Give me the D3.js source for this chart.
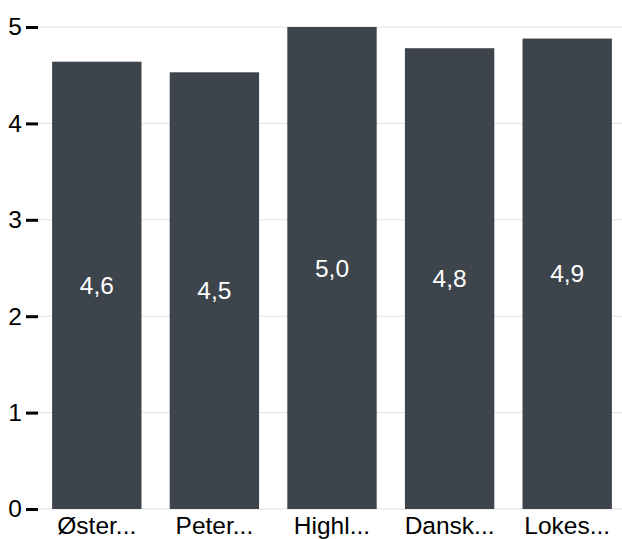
<!DOCTYPE html>
<html>
<head>
<meta charset="utf-8">
<script src="https://cdn.jsdelivr.net/npm/d3@7"></script>
<style>
  body { margin: 0; background: #fff; }
  svg { display: block; font-family: "Liberation Sans", Arial, sans-serif; }
</style>
</head>
<body>
<div id="chart"></div>
<script>
const width = 622, height = 539;
const margin = ({top: 27, right: 0, bottom: 30, left: 38});

// Data
const names = ["Øster...", "Peter...", "Highl...", "Dansk...", "Lokes..."];
const values = [4.64, 4.53, 5.0, 4.78, 4.88];
const yTicks = [0, 1, 2, 3, 4, 5];

const barColor = "#3e444c";
const fontSize = 24.5;

const svg = d3.select("#chart").append("svg")
    .attr("width", width)
    .attr("height", height);

const x = d3.scaleBand()
    .domain(names)
    .range([margin.left, 626])
    .paddingInner(0.24)
    .paddingOuter(0.12);

const y = d3.scaleLinear()
    .domain([0, 5])
    .range([height - margin.bottom, margin.top]);

// Gridlines
svg.append("g")
    .selectAll("line")
    .data(yTicks)
    .join("line")
    .attr("x1", margin.left)
    .attr("x2", width)
    .attr("y1", d => y(d))
    .attr("y2", d => y(d))
    .attr("stroke", "#e0e0e0")
    .attr("stroke-width", 1);

// Y axis
const gy = svg.append("g")
    .attr("transform", `translate(${margin.left},0)`)
    .call(d3.axisLeft(y).tickValues(yTicks).tickFormat(d3.format("d")).tickSize(12).tickPadding(4))
    .call(g => g.select(".domain").remove());
gy.attr("font-size", fontSize).attr("font-family", null);
gy.selectAll(".tick line")
    .attr("stroke", "#000")
    .attr("stroke-width", 3);
gy.selectAll(".tick text")
    .attr("fill", "#000");

// Bars
svg.append("g")
    .selectAll("rect")
    .data(values)
    .join("rect")
    .attr("x", (d, i) => x(names[i]))
    .attr("y", d => y(d))
    .attr("width", x.bandwidth())
    .attr("height", d => y(0) - y(d))
    .attr("fill", barColor);

// Value labels, centred in the bar
const fmt = d => d3.format(".1f")(d).replace(".", ",");
svg.append("g")
    .selectAll("text")
    .data(values)
    .join("text")
    .attr("x", (d, i) => x(names[i]) + x.bandwidth() / 2)
    .attr("y", d => (y(d) + y(0)) / 2)
    .attr("dy", "0.35em")
    .attr("text-anchor", "middle")
    .attr("font-size", fontSize)
    .attr("fill", "#fff")
    .text(fmt);

// X labels
svg.append("g")
    .selectAll("text")
    .data(names)
    .join("text")
    .attr("x", d => x(d) + x.bandwidth() / 2)
    .attr("y", y(0) + 25)
    .attr("text-anchor", "middle")
    .attr("font-size", fontSize)
    .attr("fill", "#000")
    .text(d => d);
</script>
</body>
</html>
